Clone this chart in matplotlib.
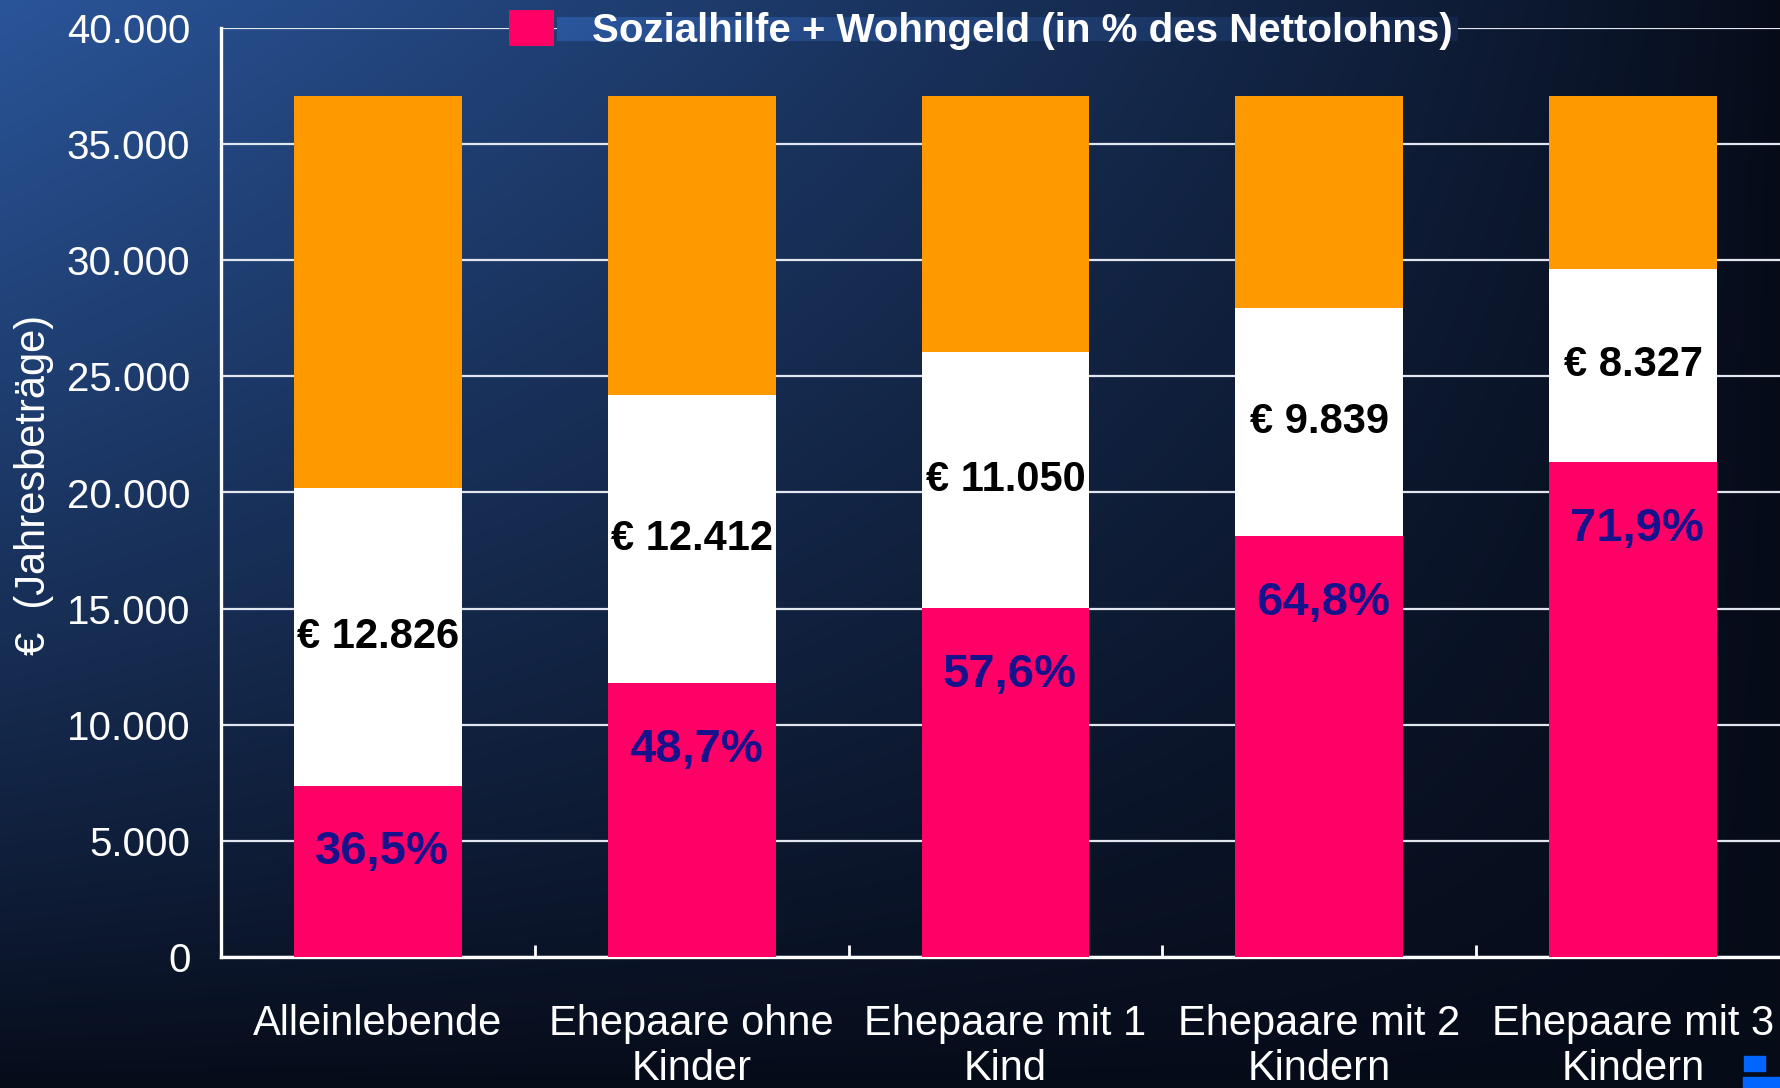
import matplotlib
matplotlib.use("Agg")
import matplotlib.pyplot as plt
import numpy as np
from matplotlib.patches import Rectangle, Patch
from matplotlib.ticker import FuncFormatter, FixedLocator

# Daten (Jahresbeträge in €)
categories = ["Alleinlebende", "Ehepaare ohne\nKinder", "Ehepaare mit 1\nKind",
              "Ehepaare mit 2\nKindern", "Ehepaare mit 3\nKindern"]
sozialhilfe = [7370, 11780, 15010, 18110, 21310]      # pink
abstand = [12826, 12412, 11050, 9839, 8327]           # white
rest = [16870, 12880, 11010, 9120, 7430]              # orange
anteil = [36.5, 48.7, 57.6, 64.8, 71.9]
yticks = [0, 5000, 10000, 15000, 20000, 25000, 30000, 35000, 40000]

PINK = "#ff0066"
ORANGE = "#ff9900"
NAVY = "#17128c"

W, H = 1780, 1088
fig = plt.figure(figsize=(W / 100, H / 100), dpi=100)

# background gradient
bg = fig.add_axes([0, 0, 1, 1], zorder=-10)
u = np.linspace(0, 1, 445)[None, :]
v = np.linspace(0, 1, 272)[:, None]
t = ((1 - u) * (1 - v)) ** 0.85
top = np.array([42, 85, 153]) / 255
dark = np.array([6, 11, 24]) / 255
img = dark + t[..., None] * (top - dark)
bg.imshow(img, aspect="auto", extent=[0, 1, 0, 1], interpolation="bilinear")
bg.axis("off")

ax = fig.add_axes([221 / W, 131 / H, 1569 / W, 929 / H])
ax.patch.set_alpha(0)

x = np.arange(len(categories))
bw = 0.535
ax.bar(x, sozialhilfe, bw, color=PINK, zorder=3)
ax.bar(x, abstand, bw, bottom=sozialhilfe, color="white", zorder=3)
bottom3 = np.array(sozialhilfe) + np.array(abstand)
ax.bar(x, rest, bw, bottom=bottom3, color=ORANGE, zorder=3)

for i in range(len(categories)):
    ax.annotate(f"€ {abstand[i]:,}".replace(",", "."),
                (x[i], sozialhilfe[i] + abstand[i] / 2),
                ha="center", va="center", fontsize=30, fontweight="bold",
                family="Liberation Sans", color="black", zorder=5)
    ax.annotate(f"{anteil[i]:.1f}%".replace(".", ","),
                (x[i], sozialhilfe[i]), xytext=(3, -48), textcoords="offset points",
                ha="center", va="center", fontsize=34, fontweight="bold",
                family="Liberation Sans", color=NAVY, zorder=5)

ax.set_xlim(-0.5, len(categories) - 0.5)
ax.set_ylim(0, 40000)
ax.yaxis.set_major_locator(FixedLocator(yticks))
ax.yaxis.set_major_formatter(FuncFormatter(lambda val, p: f"{int(val):,}".replace(",", ".")))
ax.grid(axis="y", color="#e2e6ef", linewidth=1.6, zorder=1)
ax.set_axisbelow(True)

ax.set_xticks(x)
ax.set_xticklabels(categories, fontsize=30, family="Liberation Sans", color="white",
                   linespacing=1.14)
ax.set_xticks(np.arange(0.5, len(categories) - 0.5, 1), minor=True)
ax.tick_params(axis="x", which="major", length=0, pad=34)
ax.tick_params(axis="x", which="minor", direction="in", length=9, width=2, color="white")
ax.tick_params(axis="y", length=0, pad=22, labelsize=29, labelcolor="white")
for lab in ax.get_yticklabels():
    lab.set_family("Liberation Sans")

for s in ["top", "right"]:
    ax.spines[s].set_visible(False)
for s in ["left", "bottom"]:
    ax.spines[s].set_color("white")
    ax.spines[s].set_linewidth(2.4)

fig.text(34 / W, 1 - 485 / H, "€  (Jahresbeträge)", rotation=90, ha="center", va="center",
         fontsize=30, color="white", family=["Liberation Sans Narrow", "Liberation Sans"])

# lighter band behind the legend text (covers the 40.000 grid line)
bx0, bx1, by0, by1 = 557, 1458, 17, 41
band = fig.add_axes([bx0 / W, 1 - by1 / H, (bx1 - bx0) / W, (by1 - by0) / H], zorder=1)
band.imshow(np.clip(img[by0 * 272 // H:by1 * 272 // H + 1, bx0 * 445 // W:bx1 * 445 // W] * 1.35, 0, 1),
            aspect="auto", interpolation="bilinear")
band.axis("off")

leg = fig.legend(handles=[Patch(facecolor=PINK, edgecolor="none")],
                 labels=["Sozialhilfe + Wohngeld (in % des Nettolohns)"],
                 loc="center left", bbox_to_anchor=(509 / W, 1 - 30 / H),
                 frameon=False, borderpad=0, handlelength=1.12, handleheight=1.0,
                 handletextpad=0.95, borderaxespad=0,
                 prop={"family": "Liberation Sans", "weight": "bold", "size": 29})
leg.set_zorder(6)
for txt in leg.get_texts():
    txt.set_color("white")

# logo fragment bottom right
fig.patches.append(Rectangle((1744 / W, 1 - 1071 / H), 21 / W, 15 / H,
                             transform=fig.transFigure, color="#0066ff"))
fig.patches.append(Rectangle((1743 / W, 0), 37 / W, 11 / H,
                             transform=fig.transFigure, color="#0066ff"))

fig.savefig("out.png", dpi=100)
